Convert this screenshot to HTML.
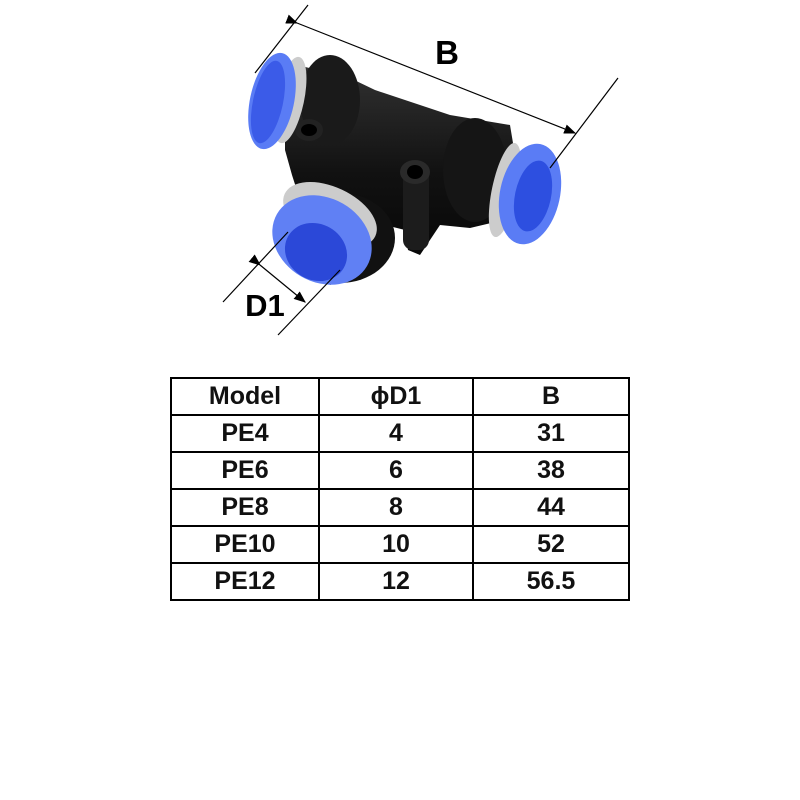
<!DOCTYPE html>
<html><head><style>
body{margin:0;background:#fff;width:800px;height:800px;position:relative;overflow:hidden;font-family:"Liberation Sans",Arial,sans-serif}
table{position:absolute;left:170px;top:377px;border-collapse:collapse}
td{border:2px solid #000;height:35px;padding:0;text-align:center;font-weight:bold;font-size:25px;line-height:35px;color:#111}
</style></head><body>
<svg width="800" height="360" style="position:absolute;left:0;top:0">
<defs>
<marker id="a" markerWidth="10" markerHeight="8" refX="9" refY="4" orient="auto"><path d="M0,0 L10,4 L0,8 z" fill="#000"/></marker>
<linearGradient id="bk" x1="0" y1="0" x2="0" y2="1"><stop offset="0" stop-color="#333"/><stop offset=".5" stop-color="#111"/><stop offset="1" stop-color="#050505"/></linearGradient>
</defs>
<path d="M285,62 L350,78 L375,90 L450,115 L510,125 L525,215 L470,228 L440,225 L420,255 L408,250 L405,230 L385,225 L360,270 L330,285 L300,200 L292,175 L285,150 Z" fill="url(#bk)"/>
<ellipse cx="330" cy="100" rx="30" ry="45" fill="#1a1a1a"/>
<ellipse cx="475" cy="170" rx="32" ry="52" fill="#151515"/>
<ellipse cx="340" cy="238" rx="55" ry="45" fill="#111"/>
<ellipse cx="309" cy="130" rx="14" ry="11" fill="#222"/><ellipse cx="309" cy="130" rx="8" ry="6" fill="#000"/>
<rect x="403" y="165" width="26" height="85" rx="10" fill="#1c1c1c"/>
<ellipse cx="415" cy="172" rx="15" ry="12" fill="#2a2a2a"/><ellipse cx="415" cy="172" rx="8" ry="7" fill="#000"/>
<ellipse cx="290" cy="100" rx="14" ry="44" fill="#ccc" transform="rotate(12 290 100)"/>
<ellipse cx="505" cy="190" rx="13" ry="48" fill="#ccc" transform="rotate(12 505 190)"/>
<ellipse cx="330" cy="215" rx="50" ry="28" fill="#ccc" transform="rotate(25 330 215)"/>
<ellipse cx="272" cy="101" rx="22" ry="49" fill="#5a7cf5" transform="rotate(12 272 101)"/>
<ellipse cx="268" cy="102" rx="15" ry="42" fill="#3b5be8" transform="rotate(12 268 102)"/>
<ellipse cx="530" cy="194" rx="30" ry="51" fill="#5a7cf5" transform="rotate(12 530 194)"/>
<ellipse cx="533" cy="196" rx="18" ry="36" fill="#2d4fe0" transform="rotate(12 533 196)"/>
<ellipse cx="322" cy="240" rx="52" ry="42" fill="#6080f4" transform="rotate(30 322 240)"/>
<ellipse cx="316" cy="252" rx="32" ry="28" fill="#2b48d8" transform="rotate(30 316 252)"/>
<g stroke="#000" stroke-width="1.2" fill="none">
<line x1="308" y1="5" x2="255" y2="73"/>
<line x1="618" y1="78" x2="550" y2="168"/>
<line x1="297" y1="23" x2="575" y2="133" marker-end="url(#a)" marker-start="url(#a)"/>
<line x1="223" y1="302" x2="288" y2="232"/>
<line x1="278" y1="335" x2="340" y2="270"/>
<line x1="260" y1="265" x2="305" y2="302" marker-end="url(#a)" marker-start="url(#a)"/>
</g>
<text x="447" y="64" font-size="33" font-weight="bold" text-anchor="middle" font-family="Liberation Sans,sans-serif">B</text>
<text x="265" y="316" font-size="31" font-weight="bold" text-anchor="middle" font-family="Liberation Sans,sans-serif">D1</text>
</svg>
<table>
<tr><td style="width:146px">Model</td><td style="width:152px">ϕD1</td><td style="width:154px">B</td></tr>
<tr><td>PE4</td><td>4</td><td>31</td></tr>
<tr><td>PE6</td><td>6</td><td>38</td></tr>
<tr><td>PE8</td><td>8</td><td>44</td></tr>
<tr><td>PE10</td><td>10</td><td>52</td></tr>
<tr><td>PE12</td><td>12</td><td>56.5</td></tr>
</table>
</body></html>
